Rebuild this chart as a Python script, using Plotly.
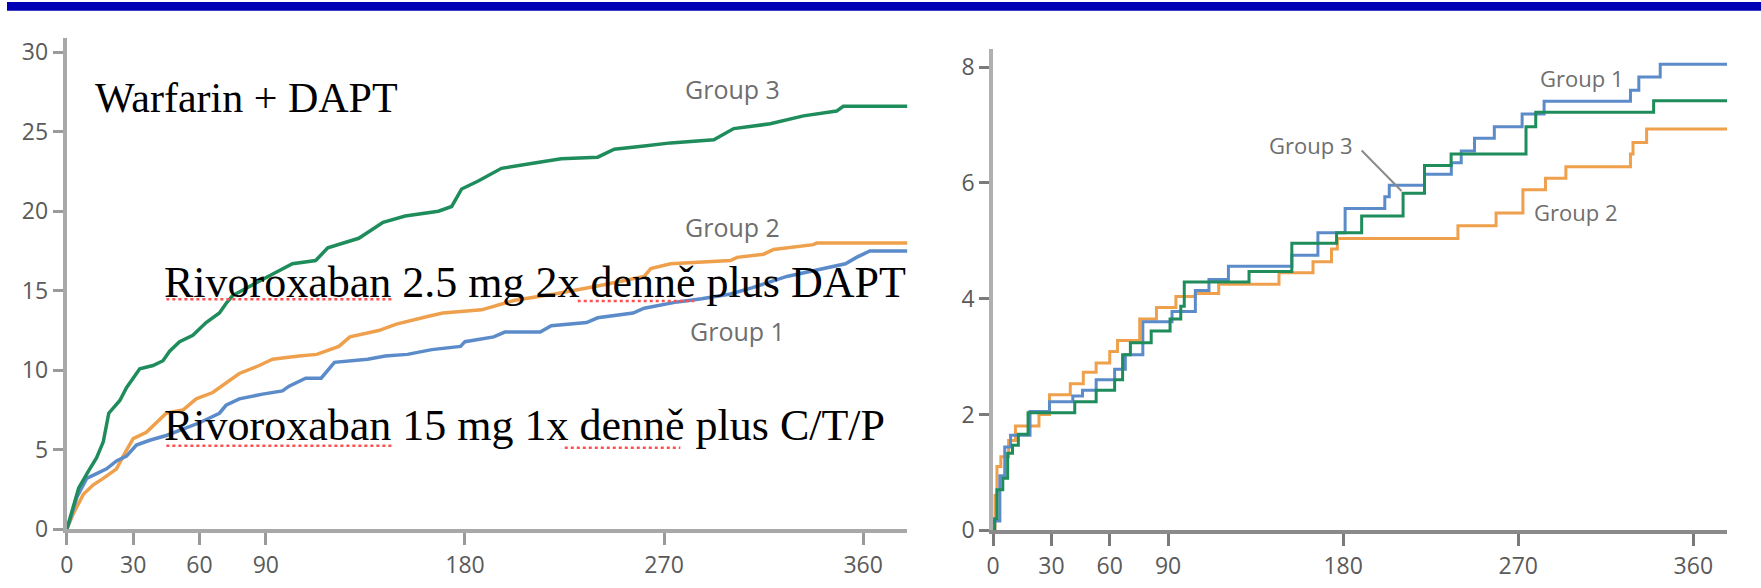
import plotly.graph_objects as go

W, H = 1761, 588

# ---------------- data: left panel (cumulative %, days) ----------------
left_g3_days = [0, 3, 5.4, 10, 13.5, 16.5, 19, 24, 27, 33, 39, 43.5, 46.5, 51, 57, 63, 69, 72, 75, 91,
                102, 112.5, 118, 132, 143, 153, 168, 174, 178.5, 186, 196.5, 210, 223.5, 240, 247.5,
                261, 273, 292.5, 301.5, 318, 333, 348, 351, 380]
left_g3_vals = [0, 1.4, 2.6, 3.7, 4.5, 5.5, 7.3, 8.1, 8.9, 10.1, 10.3, 10.6, 11.2, 11.8, 12.2, 13.0, 13.6,
                14.2, 14.7, 15.9, 16.7, 16.9, 17.7, 18.3, 19.3, 19.7, 20.0, 20.3, 21.4, 21.9, 22.7, 23.0,
                23.3, 23.4, 23.9, 24.1, 24.3, 24.5, 25.2, 25.5, 26.0, 26.3, 26.6, 26.6]

left_g2_days = [0, 3, 7.5, 12, 16.5, 22.5, 25.5, 30, 36, 40.5, 45, 52.5, 58.5, 66, 72, 78, 87, 93, 105,
                113, 123, 128, 141, 149, 163.5, 170, 187.5, 202.5, 220.5, 240, 261, 264, 273, 300, 303,
                315, 319.5, 337.5, 339, 380]
left_g2_vals = [0, 1.0, 2.2, 2.8, 3.2, 3.8, 4.6, 5.7, 6.1, 6.7, 7.3, 7.5, 8.2, 8.6, 9.2, 9.8, 10.3, 10.7,
                10.9, 11.0, 11.5, 12.1, 12.5, 12.9, 13.4, 13.6, 13.8, 14.4, 14.8, 15.3, 15.9, 16.4, 16.7,
                16.9, 17.1, 17.3, 17.6, 17.9, 18.0, 18.0]

left_g1_days = [0, 1.5, 4.5, 9, 13.5, 18, 22.5, 27, 31.5, 37.5, 45, 52.5, 60, 69, 72, 78, 88.5, 97.5,
                100.5, 108, 115, 121, 136, 144, 154, 165, 178, 180, 193, 198, 214, 219, 235, 240, 256,
                261, 276, 287, 300, 310, 325.5, 352, 357, 363, 380]
left_g1_vals = [0, 0.6, 2.0, 3.2, 3.5, 3.8, 4.3, 4.6, 5.3, 5.6, 5.9, 6.3, 6.7, 7.3, 7.8, 8.2, 8.5, 8.7,
                9.0, 9.5, 9.5, 10.5, 10.7, 10.9, 11.0, 11.3, 11.5, 11.8, 12.1, 12.4, 12.4, 12.8, 13.0,
                13.3, 13.6, 13.9, 14.3, 14.5, 14.8, 15.2, 15.9, 16.7, 17.1, 17.5, 17.5]

# ---------------- data: right panel (step curves) ----------------
right_g1_days = [0, 0.8, 3.5, 6, 9, 19, 29, 41, 46, 53, 62.5, 68, 77, 92, 104, 111, 121, 153.6, 167,
                 181, 201.4, 203.7, 221.8, 235.6, 240.7, 247.5, 257.7, 272, 283.3, 327.7, 332, 343, 377.4]
right_g1_vals = [0, 0.16, 0.94, 1.44, 1.64, 2.05, 2.22, 2.32, 2.42, 2.6, 2.78, 3.03, 3.6, 3.78, 4.14,
                 4.33, 4.56, 4.75, 5.14, 5.56, 5.76, 5.96, 6.15, 6.35, 6.55, 6.77, 6.97, 7.19, 7.41,
                 7.6, 7.83, 8.05, 8.05]

right_g3_days = [0, 0.8, 2, 5, 7.5, 10, 13, 18, 42, 53, 62.5, 66.6, 70.6, 81.3, 91, 96.5, 98.3, 131.6,
                 153.6, 176.6, 189.5, 210.8, 221.8, 235.5, 274, 279, 339.6, 377.4]
right_g3_vals = [0, 0.2, 0.7, 0.9, 1.33, 1.47, 1.66, 2.03, 2.22, 2.42, 2.6, 3.03, 3.24, 3.44, 3.65,
                 3.87, 4.29, 4.47, 4.96, 5.14, 5.43, 5.82, 6.30, 6.50, 6.97, 7.22, 7.42, 7.42]

right_g2_days = [0, 1, 2, 4, 8, 11.5, 23.6, 29, 39.7, 46.4, 53, 60, 64, 75.4, 84, 94, 104, 116, 147,
                 164.5, 174, 177, 239, 258.6, 272.4, 284, 294.5, 327.7, 329, 336, 377.4]
right_g2_vals = [0, 0.6, 1.1, 1.27, 1.55, 1.80, 2.0, 2.34, 2.53, 2.73, 2.89, 3.09, 3.28, 3.65, 3.85,
                 4.04, 4.09, 4.25, 4.45, 4.64, 4.86, 5.04, 5.26, 5.48, 5.88, 6.08, 6.28, 6.50, 6.70,
                 6.93, 6.93]

x_ticks = [0, 30, 60, 90, 180, 270, 360]
left_y_ticks = [0, 5, 10, 15, 20, 25, 30]
right_y_ticks = [0, 2, 4, 6, 8]

GREEN = "#1f8c5c"
ORANGE = "#efa04c"
BLUE = "#5b8bc9"


def px(p):
    return p / W


def py(p):
    return 1 - p / H


fig = go.Figure()

# left panel
for d, v, c in [(left_g2_days, left_g2_vals, ORANGE), (left_g1_days, left_g1_vals, BLUE),
                (left_g3_days, left_g3_vals, GREEN)]:
    fig.add_trace(go.Scatter(x=d, y=v, mode="lines", line=dict(color=c, width=3.5),
                             xaxis="x", yaxis="y", showlegend=False, hoverinfo="skip"))

# right panel
for d, v, c in [(right_g2_days, right_g2_vals, ORANGE), (right_g1_days, right_g1_vals, BLUE),
                (right_g3_days, right_g3_vals, GREEN)]:
    fig.add_trace(go.Scatter(x=d, y=v, mode="lines", line=dict(color=c, width=3, shape="hv"),
                             xaxis="x2", yaxis="y2", showlegend=False, hoverinfo="skip"))

tickfont = dict(family="Open Sans, DejaVu Sans, sans-serif", size=23, color="#5a5a5a")

common_x = dict(tickmode="array", tickvals=x_ticks, ticktext=[str(t) for t in x_ticks],
                showgrid=False, zeroline=False, showline=True, ticks="outside",
                ticklen=12, tickwidth=2.5, tickfont=tickfont)
common_y = dict(showgrid=False, zeroline=False, showline=True, ticks="outside",
                ticklen=10, tickwidth=2.5, tickfont=tickfont)

fig.update_layout(
    width=W, height=H,
    margin=dict(l=0, r=0, t=0, b=0),
    paper_bgcolor="white", plot_bgcolor="white",
    xaxis=dict(domain=[px(60), px(904)], range=[0, 380], anchor="y",
               linecolor="#a8a8a8", linewidth=4, tickcolor="#9a9a9a", **common_x),
    yaxis=dict(domain=[py(543), py(37)], range=[0, 30.9], anchor="x",
               tickmode="array", tickvals=left_y_ticks, ticktext=[str(t) for t in left_y_ticks],
               linecolor="#a8a8a8", linewidth=4, tickcolor="#9a9a9a", **common_y),
    xaxis2=dict(domain=[px(990), px(1727)], range=[0, 377.4], anchor="y2",
                linecolor="#8a8a8a", linewidth=3.5, tickcolor="#7a7a7a", **common_x),
    yaxis2=dict(domain=[py(544), py(48)], range=[0, 8.32], anchor="x2",
                tickmode="array", tickvals=right_y_ticks, ticktext=[str(t) for t in right_y_ticks],
                linecolor="#b0b0b0", linewidth=3.5, tickcolor="#7a7a7a", **common_y),
)

# blue banner at the top
fig.add_shape(type="rect", xref="paper", yref="paper", x0=0, x1=1, y0=py(9), y1=1,
              fillcolor="#0000b4", line=dict(width=0), layer="above")

serif_w = dict(family="Liberation Serif, Times New Roman, serif", size=42, color="black")
serif = dict(family="Liberation Serif, Times New Roman, serif", size=44, color="black")
group_font_l = dict(family="Open Sans, DejaVu Sans, sans-serif", size=25, color="#6e6e6e")
group_font_r = dict(family="Open Sans, DejaVu Sans, sans-serif", size=22, color="#6e6e6e")

annos = [
    dict(text="Warfarin + DAPT", x=12, y=27.1, xref="x", yref="y", xanchor="left",
         yanchor="middle", font=serif_w),
    dict(text="Rivoroxaban 2.5 mg 2x denně plus DAPT", x=43, y=15.5, xref="x", yref="y",
         xanchor="left", yanchor="middle", font=serif),
    dict(text="Rivoroxaban 15 mg 1x denně plus C/T/P", x=43, y=6.5, xref="x", yref="y",
         xanchor="left", yanchor="middle", font=serif),
    dict(text="Group 3", x=301, y=27.7, xref="x", yref="y", font=group_font_l),
    dict(text="Group 2", x=301, y=19.0, xref="x", yref="y", font=group_font_l),
    dict(text="Group 1", x=303, y=12.5, xref="x", yref="y", font=group_font_l),
    dict(text="Group 1", x=302.6, y=7.82, xref="x2", yref="y2", font=group_font_r),
    dict(text="Group 2", x=299.5, y=5.5, xref="x2", yref="y2", font=group_font_r),
    dict(text="Group 3", x=163, y=6.66, xref="x2", yref="y2", font=group_font_r),
]
for a in annos:
    a.setdefault("showarrow", False)
    fig.add_annotation(**a)

# pointer for right "Group 3"
fig.add_shape(type="line", xref="x2", yref="y2", x0=189.5, y0=6.56, x1=210, y1=5.86,
              line=dict(color="#8a8a8a", width=2))

# red spell-check underlines
for x0, x1, yy in [(160, 388, 306), (573, 690, 308), (160, 388, 457), (560, 676, 459)]:
    fig.add_shape(type="line", xref="paper", yref="paper", x0=px(x0), x1=px(x1), y0=py(yy), y1=py(yy),
                  line=dict(color="#ff5050", width=2.5, dash="dot"))

fig.write_html("out.html",
               config={"displayModeBar": False},
               post_script="document.body.style.margin='0';document.body.style.padding='0';"
                           "document.documentElement.style.overflow='hidden';")
